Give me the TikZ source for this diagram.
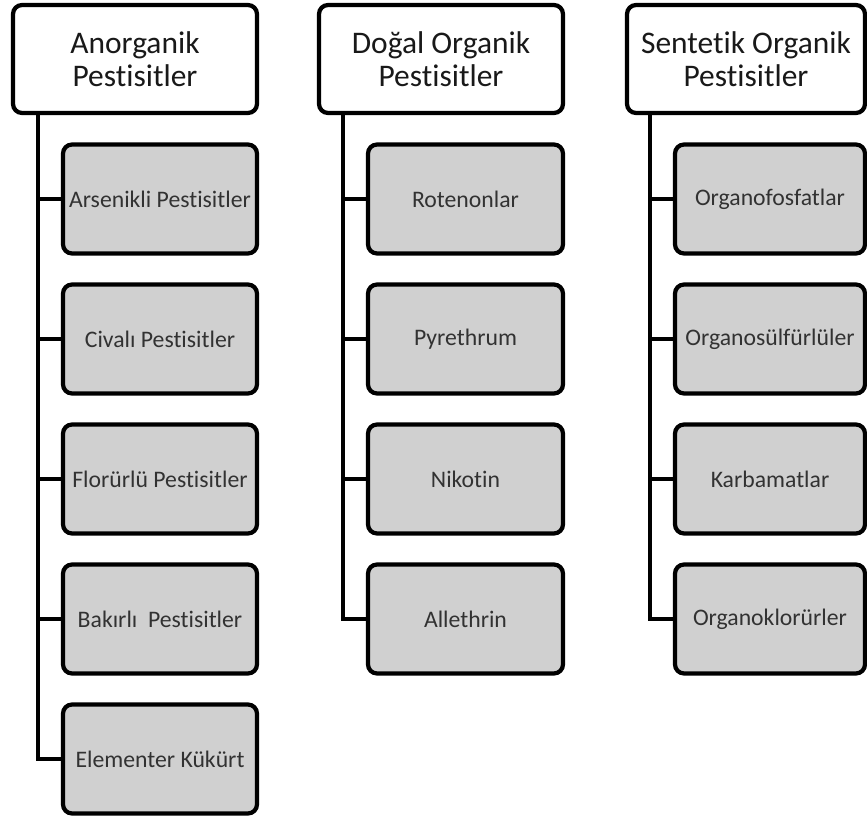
\documentclass[tikz,border=0pt]{standalone}
\usepackage{fontspec}
\setmainfont{Carlito}[Ligatures={NoCommon,NoContextual}]
\usepackage{tikz}
\usetikzlibrary{positioning}

\definecolor{boxgray}{RGB}{208,208,208}
\definecolor{textgray}{RGB}{50,50,50}

\begin{document}
\begin{tikzpicture}[x=0.02cm, y=-0.02cm,
    head/.style={rectangle, rounded corners=0.18cm, draw=black, line width=2.4pt, fill=white,
      inner sep=0pt, minimum height=2.16cm, align=center, text=black!90,
      font=\fontsize{17.9}{18.6}\selectfont},
    item/.style={rectangle, rounded corners=0.18cm, draw=black, line width=2.4pt, fill=boxgray,
      inner sep=0pt, minimum height=2.18cm, align=center, text=textgray,
      font=\fontsize{13.5}{16}\selectfont},
    link/.style={draw=black, line width=2.4pt}]
  \useasboundingbox (0,0) rectangle (867,816);

  % headers
  \node[head, minimum width=4.88cm] (anorg) at (135,59) {Anorganik\\Pestisitler};
  \node[head, minimum width=4.88cm] (dogal) at (441,59) {Doğal Organik\\Pestisitler};
  \node[head, minimum width=4.76cm] (sent) at (746,59) {Sentetik Organik\\Pestisitler};

  % first column
  \node[item, minimum width=3.88cm] (a1) at (160,199) {Arsenikli Pestisitler};
  \node[item, minimum width=3.88cm] (a2) at (160,339) {Civalı Pestisitler};
  \node[item, minimum width=3.88cm] (a3) at (160,479) {Florürlü Pestisitler};
  \node[item, minimum width=3.88cm] (a4) at (160,619) {Bakırlı\ \ Pestisitler};
  \node[item, minimum width=3.88cm] (a5) at (160,759) {Elementer Kükürt};

  % second column
  \node[item, minimum width=3.9cm] (d1) at (465.5,199) {Rotenonlar};
  \node[item, minimum width=3.9cm] (d2) at (465.5,339) {Pyrethrum};
  \node[item, minimum width=3.9cm] (d3) at (465.5,479) {Nikotin};
  \node[item, minimum width=3.9cm] (d4) at (465.5,619) {Allethrin};

  % third column
  \node[item, minimum width=3.8cm] (s1) at (770,199) {Organofosfatlar};
  \node[item, minimum width=3.8cm] (s2) at (770,339) {Organosülfürlüler};
  \node[item, minimum width=3.8cm] (s3) at (770,479) {Karbamatlar};
  \node[item, minimum width=3.8cm] (s4) at (770,619) {Organoklorürler};

  \coordinate (aTrunk) at (38,113);
  \coordinate (dTrunk) at (343,113);
  \coordinate (sTrunk) at (650,113);

  \path[link]
    (aTrunk) |- (a5.west)
    (aTrunk |- a1) -- (a1.west)
    (aTrunk |- a2) -- (a2.west)
    (aTrunk |- a3) -- (a3.west)
    (aTrunk |- a4) -- (a4.west);
  \path[link]
    (dTrunk) |- (d4.west)
    (dTrunk |- d1) -- (d1.west)
    (dTrunk |- d2) -- (d2.west)
    (dTrunk |- d3) -- (d3.west);
  \path[link]
    (sTrunk) |- (s4.west)
    (sTrunk |- s1) -- (s1.west)
    (sTrunk |- s2) -- (s2.west)
    (sTrunk |- s3) -- (s3.west);
\end{tikzpicture}
\end{document}
